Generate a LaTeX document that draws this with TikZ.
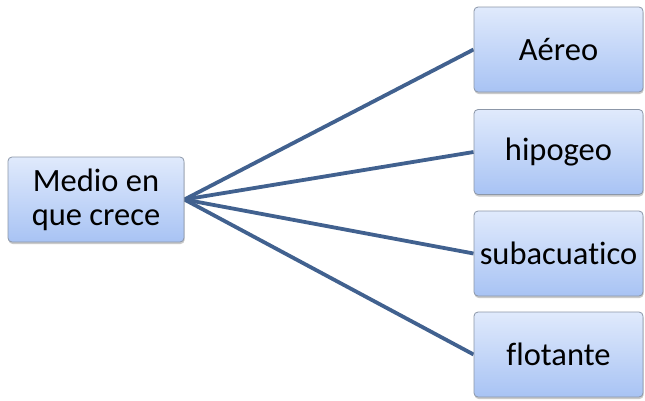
\documentclass[tikz,border=0pt]{standalone}
\usepackage{fontspec}
\setmainfont{Carlito}[RawFeature={-liga}]
\usepackage{tikz}
\usetikzlibrary{shadows, backgrounds}
\definecolor{boxedge}{HTML}{8C97A8}
\definecolor{boxtop}{HTML}{E0EAFC}
\definecolor{boxbot}{HTML}{A8C3F4}
\definecolor{linkcol}{HTML}{41618F}
\tikzstyle{box}=[draw=boxedge, line width=0.8pt, rounded corners=4pt, top color=boxtop, bottom color=boxbot, align=center, font=\fontsize{32.5}{34}\selectfont, inner sep=0pt, drop shadow={shadow xshift=0.6pt, shadow yshift=-2pt, opacity=0.35, fill=black!60}]
\tikzstyle{link}=[draw=linkcol, line width=3.8pt]

\begin{document}
\begin{tikzpicture}[x=1pt, y=-1pt]
\useasboundingbox (0,0) rectangle (645,400);
% the root
\node[box, minimum width=176pt, minimum height=85pt] (medio) at (96, 199.5) {Medio en\\que crece};
% the leaves
\node[box, minimum width=169pt, minimum height=85pt] (aereo) at (558.5, 49.5) {Aéreo};
\node[box, minimum width=169pt, minimum height=85pt] (hipogeo) at (558.5, 152) {hipogeo};
\node[box, minimum width=169pt, minimum height=85pt] (subacuatico) at (558.5, 253.5) {subacuatico};
\node[box, minimum width=169pt, minimum height=85pt] (flotante) at (558.5, 354.5) {flotante};
% the connectors
\begin{scope}[on background layer]
\draw[link] (medio.east) -- (aereo.west);
\draw[link] (medio.east) -- (hipogeo.west);
\draw[link] (medio.east) -- (subacuatico.west);
\draw[link] (medio.east) -- (flotante.west);
\end{scope}
\end{tikzpicture}
\end{document}
